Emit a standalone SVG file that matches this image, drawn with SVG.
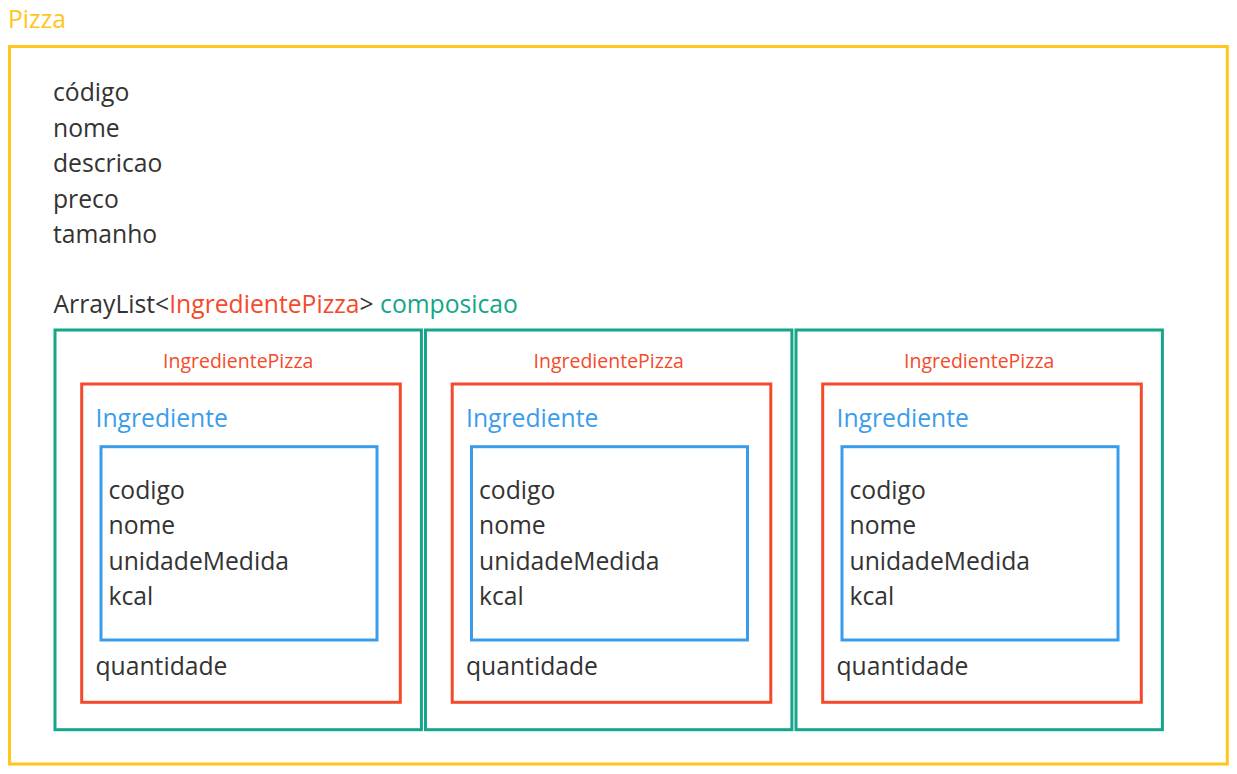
<svg xmlns="http://www.w3.org/2000/svg" width="1237" height="774" viewBox="0 0 1237 774">
<style>
text{font-family:"Open Sans","Noto Sans","Liberation Sans",sans-serif;font-size:24.7px;fill:#333333}
.y{fill:none;stroke:#FFC61E;stroke-width:3}
.g{fill:none;stroke:#14A688;stroke-width:3}
.r{fill:none;stroke:#F44A2C;stroke-width:3}
.b{fill:none;stroke:#3A9DEC;stroke-width:3}
.tr{fill:#F44A2C}
.tg{fill:#14A688}
.tb{fill:#3A9DEC}
.sm{font-size:19.5px;fill:#F44A2C}
</style>
<rect width="1237" height="774" fill="#ffffff"/>
<g id="pizza">
<text x="8" y="28" style="fill:#FFC61E">Pizza</text>
<rect class="y" x="9.5" y="46.5" width="1217.8" height="717.5"/>
<text x="53" y="101.3">código</text>
<text x="53" y="136.5">nome</text>
<text x="53" y="172.3">descricao</text>
<text x="53" y="207.5">preco</text>
<text x="53" y="242.5">tamanho</text>
<text x="53.5" y="313.3">ArrayList&lt;<tspan class="tr">IngredientePizza</tspan>&gt; <tspan class="tg">composicao</tspan></text>
</g>
<g id="item1">
<rect class="g" x="55" y="330" width="366.4" height="399.7"/>
<text class="sm" x="238.2" y="368.3" text-anchor="middle">IngredientePizza</text>
<rect class="r" x="81.7" y="384" width="318.6" height="318.3"/>
<text class="tb" x="95.5" y="426.7">Ingrediente</text>
<rect class="b" x="101" y="446.7" width="276" height="193.3"/>
<text x="108.5" y="498.5">codigo</text>
<text x="108.5" y="534">nome</text>
<text x="108.5" y="569.5">unidadeMedida</text>
<text x="108.5" y="604.5">kcal</text>
<text x="95.5" y="675">quantidade</text>
</g>
<g id="item2" transform="translate(370.5,0)">
<rect class="g" x="55" y="330" width="366.4" height="399.7"/>
<text class="sm" x="238.2" y="368.3" text-anchor="middle">IngredientePizza</text>
<rect class="r" x="81.7" y="384" width="318.6" height="318.3"/>
<text class="tb" x="95.5" y="426.7">Ingrediente</text>
<rect class="b" x="101" y="446.7" width="276" height="193.3"/>
<text x="108.5" y="498.5">codigo</text>
<text x="108.5" y="534">nome</text>
<text x="108.5" y="569.5">unidadeMedida</text>
<text x="108.5" y="604.5">kcal</text>
<text x="95.5" y="675">quantidade</text>
</g>
<g id="item3" transform="translate(741,0)">
<rect class="g" x="55" y="330" width="366.4" height="399.7"/>
<text class="sm" x="238.2" y="368.3" text-anchor="middle">IngredientePizza</text>
<rect class="r" x="81.7" y="384" width="318.6" height="318.3"/>
<text class="tb" x="95.5" y="426.7">Ingrediente</text>
<rect class="b" x="101" y="446.7" width="276" height="193.3"/>
<text x="108.5" y="498.5">codigo</text>
<text x="108.5" y="534">nome</text>
<text x="108.5" y="569.5">unidadeMedida</text>
<text x="108.5" y="604.5">kcal</text>
<text x="95.5" y="675">quantidade</text>
</g>
<g id="connectors"></g>
</svg>
